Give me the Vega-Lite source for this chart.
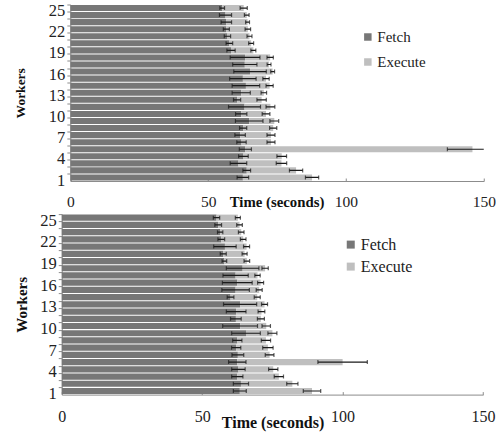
{
  "$schema": "https://vega.github.io/schema/vega-lite/v6.json",
  "padding": {"left": 12.75, "top": 2.5, "right": 0, "bottom": 0},
  "config": {"view": {"stroke": null}, "axis": {"grid": false}, "font": "Liberation Serif"},
  "datasets": {
    "top": [
      {"w":25,"s":"Fetch","a":0,"b":55.1,"e":0.85},{"w":25,"s":"Execute","a":55.1,"b":62.9,"e":1.3},
      {"w":24,"s":"Fetch","a":0,"b":56.3,"e":2.2},{"w":24,"s":"Execute","a":56.3,"b":64.0,"e":0.85},
      {"w":23,"s":"Fetch","a":0,"b":56.6,"e":1.9},{"w":23,"s":"Execute","a":56.6,"b":64.3,"e":0.7},
      {"w":22,"s":"Fetch","a":0,"b":56.6,"e":1.1},{"w":22,"s":"Execute","a":56.6,"b":64.4,"e":1.0},
      {"w":21,"s":"Fetch","a":0,"b":57.0,"e":1.15},{"w":21,"s":"Execute","a":57.0,"b":65.0,"e":0.9},
      {"w":20,"s":"Fetch","a":0,"b":57.7,"e":1.2},{"w":20,"s":"Execute","a":57.7,"b":65.6,"e":0.9},
      {"w":19,"s":"Fetch","a":0,"b":58.3,"e":1.5},{"w":19,"s":"Execute","a":58.3,"b":66.4,"e":0.9},
      {"w":18,"s":"Fetch","a":0,"b":63.4,"e":5.4},{"w":18,"s":"Execute","a":63.4,"b":72.5,"e":1.15},
      {"w":17,"s":"Fetch","a":0,"b":63.3,"e":4.4},{"w":17,"s":"Execute","a":63.3,"b":72.1,"e":0.7},
      {"w":16,"s":"Fetch","a":0,"b":65.2,"e":5.9},{"w":16,"s":"Execute","a":65.2,"b":73.4,"e":0.7},
      {"w":15,"s":"Fetch","a":0,"b":62.6,"e":4.8},{"w":15,"s":"Execute","a":62.6,"b":71.0,"e":1.15},
      {"w":14,"s":"Fetch","a":0,"b":63.7,"e":5.0},{"w":14,"s":"Execute","a":63.7,"b":72.3,"e":1.3},
      {"w":13,"s":"Fetch","a":0,"b":62.0,"e":3.3},{"w":13,"s":"Execute","a":62.0,"b":70.2,"e":1.0},
      {"w":12,"s":"Fetch","a":0,"b":60.5,"e":1.3},{"w":12,"s":"Execute","a":60.5,"b":69.4,"e":1.7},
      {"w":11,"s":"Fetch","a":0,"b":63.2,"e":5.8},{"w":11,"s":"Execute","a":63.2,"b":72.6,"e":1.6},
      {"w":10,"s":"Fetch","a":0,"b":62.0,"e":2.05},{"w":10,"s":"Execute","a":62.0,"b":71.0,"e":1.4},
      {"w":9,"s":"Fetch","a":0,"b":64.9,"e":5.0},{"w":9,"s":"Execute","a":64.9,"b":74.0,"e":1.6},
      {"w":8,"s":"Fetch","a":0,"b":62.7,"e":1.3},{"w":8,"s":"Execute","a":62.7,"b":73.6,"e":1.3},
      {"w":7,"s":"Fetch","a":0,"b":61.6,"e":1.9},{"w":7,"s":"Execute","a":61.6,"b":72.8,"e":1.45},
      {"w":6,"s":"Fetch","a":0,"b":62.1,"e":1.7},{"w":6,"s":"Execute","a":62.1,"b":72.8,"e":1.45},
      {"w":5,"s":"Fetch","a":0,"b":63.5,"e":2.2},{"w":5,"s":"Execute","a":63.5,"b":145.9,"e":9.1},
      {"w":4,"s":"Fetch","a":0,"b":62.8,"e":1.75},{"w":4,"s":"Execute","a":62.8,"b":76.7,"e":1.75},
      {"w":3,"s":"Fetch","a":0,"b":61.0,"e":3.0},{"w":3,"s":"Execute","a":61.0,"b":76.6,"e":1.9},
      {"w":2,"s":"Fetch","a":0,"b":64.0,"e":1.4},{"w":2,"s":"Execute","a":64.0,"b":81.9,"e":2.4},
      {"w":1,"s":"Fetch","a":0,"b":62.6,"e":2.1},{"w":1,"s":"Execute","a":62.6,"b":87.7,"e":2.4}
    ],
    "bot": [
      {"w":25,"s":"Fetch","a":0,"b":55.1,"e":1.13},{"w":25,"s":"Execute","a":55.1,"b":62.7,"e":0.9},
      {"w":24,"s":"Fetch","a":0,"b":55.7,"e":1.2},{"w":24,"s":"Execute","a":55.7,"b":63.3,"e":1.0},
      {"w":23,"s":"Fetch","a":0,"b":56.4,"e":0.95},{"w":23,"s":"Execute","a":56.4,"b":63.9,"e":1.0},
      {"w":22,"s":"Fetch","a":0,"b":56.8,"e":1.2},{"w":22,"s":"Execute","a":56.8,"b":64.6,"e":1.0},
      {"w":21,"s":"Fetch","a":0,"b":58.1,"e":4.0},{"w":21,"s":"Execute","a":58.1,"b":65.8,"e":1.07},
      {"w":20,"s":"Fetch","a":0,"b":57.5,"e":1.07},{"w":20,"s":"Execute","a":57.5,"b":65.1,"e":0.9},
      {"w":19,"s":"Fetch","a":0,"b":57.9,"e":0.83},{"w":19,"s":"Execute","a":57.9,"b":65.9,"e":1.0},
      {"w":18,"s":"Fetch","a":0,"b":64.4,"e":5.8},{"w":18,"s":"Execute","a":64.4,"b":72.4,"e":1.13},
      {"w":17,"s":"Fetch","a":0,"b":61.9,"e":4.5},{"w":17,"s":"Execute","a":61.9,"b":69.7,"e":0.95},
      {"w":16,"s":"Fetch","a":0,"b":62.5,"e":5.3},{"w":16,"s":"Execute","a":62.5,"b":70.8,"e":1.07},
      {"w":15,"s":"Fetch","a":0,"b":61.9,"e":4.9},{"w":15,"s":"Execute","a":61.9,"b":70.3,"e":1.07},
      {"w":14,"s":"Fetch","a":0,"b":60.1,"e":1.2},{"w":14,"s":"Execute","a":60.1,"b":69.6,"e":1.07},
      {"w":13,"s":"Fetch","a":0,"b":63.5,"e":5.9},{"w":13,"s":"Execute","a":63.5,"b":72.2,"e":1.07},
      {"w":12,"s":"Fetch","a":0,"b":62.1,"e":3.5},{"w":12,"s":"Execute","a":62.1,"b":71.1,"e":1.2},
      {"w":11,"s":"Fetch","a":0,"b":62.0,"e":1.9},{"w":11,"s":"Execute","a":62.0,"b":70.9,"e":1.25},
      {"w":10,"s":"Fetch","a":0,"b":63.5,"e":6.2},{"w":10,"s":"Execute","a":63.5,"b":72.8,"e":1.5},
      {"w":9,"s":"Fetch","a":0,"b":65.6,"e":5.1},{"w":9,"s":"Execute","a":65.6,"b":75.0,"e":1.6},
      {"w":8,"s":"Fetch","a":0,"b":62.5,"e":1.65},{"w":8,"s":"Execute","a":62.5,"b":72.7,"e":1.65},
      {"w":7,"s":"Fetch","a":0,"b":62.1,"e":1.65},{"w":7,"s":"Execute","a":62.1,"b":73.4,"e":1.85},
      {"w":6,"s":"Fetch","a":0,"b":62.7,"e":2.1},{"w":6,"s":"Execute","a":62.7,"b":74.0,"e":1.55},
      {"w":5,"s":"Fetch","a":0,"b":62.5,"e":3.1},{"w":5,"s":"Execute","a":62.5,"b":100.0,"e":8.8},
      {"w":4,"s":"Fetch","a":0,"b":62.9,"e":2.4},{"w":4,"s":"Execute","a":62.9,"b":75.3,"e":1.65},
      {"w":3,"s":"Fetch","a":0,"b":62.5,"e":2.0},{"w":3,"s":"Execute","a":62.5,"b":77.3,"e":1.65},
      {"w":2,"s":"Fetch","a":0,"b":63.8,"e":2.7},{"w":2,"s":"Execute","a":63.8,"b":82.1,"e":2.0},
      {"w":1,"s":"Fetch","a":0,"b":63.4,"e":2.3},{"w":1,"s":"Execute","a":63.4,"b":89.1,"e":3.1}
    ]
  },
  "vconcat": [
    {
      "width": 422,
      "height": 176.5,
      "data": {"name": "top"},
      "layer": [
        {
          "mark": {"type": "bar"},
          "encoding": {
            "y": {"field": "w", "type": "ordinal", "sort": "descending",
              "scale": {"paddingInner": 0.14, "paddingOuter": 0.07},
              "axis": {"offset": -8.6, "bandPosition": 0, "labelOffset": 3.04, "tickSize": 3.5, "tickColor": "#8c8c8c", "domainColor": "#8c8c8c",
                "labelPadding": 2, "labelFont": "Liberation Serif", "labelFontSize": 16.5, "labelColor": "#222",
                "labelExpr": "datum.value % 3 == 1 ? datum.label : ''",
                "title": "Workers", "titleFont": "Liberation Serif", "titleFontSize": 13.5, "titleFontWeight": "bold", "titleColor": "#111",
                "titleAngle": -90, "titleX": -50.3, "titleY": 88.25, "titleAlign": "center", "titleBaseline": "middle"}},
            "x": {"field": "a", "type": "quantitative", "scale": {"domain": [0, 150], "nice": false, "range": [8.6, 422]},
              "title": "Time (seconds)",
              "axis": {"values": [0, 50, 100, 150], "tickSize": -3, "tickColor": "#8c8c8c", "domainColor": "#8c8c8c",
                "labelBaseline": "alphabetic", "labelPadding": 28, "labelFont": "Liberation Serif", "labelFontSize": 15.5, "labelColor": "#222", "labelFlush": false,
                "titleFont": "Liberation Serif", "titleFontSize": 14.8, "titleFontWeight": "bold", "titleColor": "#111",
                "titleX": 214.8, "titleY": 25, "titleAlign": "center", "titleBaseline": "alphabetic"}},
            "x2": {"field": "b"},
            "color": {"field": "s", "type": "nominal",
              "scale": {"domain": ["Fetch", "Execute"], "range": ["#777777", "#bfbfbf"]},
              "legend": {"orient": "none", "legendX": 298.6, "legendY": 25, "title": null, "direction": "vertical",
                "symbolType": "square", "symbolSize": 56, "symbolStrokeWidth": 0, "padding": 0,
                "labelFont": "Liberation Serif", "labelFontSize": 15, "labelColor": "#222", "labelOffset": 2, "rowPadding": 9}}
          }
        },
        {
          "mark": {"type": "errorbar", "color": "#1a1a1a", "clip": true, "ticks": {"size": 4, "thickness": 1.2}, "rule": {"strokeWidth": 1.2}},
          "encoding": {
            "y": {"field": "w", "type": "ordinal", "sort": "descending"},
            "x": {"field": "b", "type": "quantitative", "title": "Time (seconds)"},
            "xError": {"field": "e"}
          }
        }
      ]
    },
    {
      "width": 421.3,
      "height": 180.5,
      "data": {"name": "bot"},
      "layer": [
        {
          "mark": {"type": "bar"},
          "encoding": {
            "y": {"field": "w", "type": "ordinal", "sort": "descending",
              "scale": {"paddingInner": 0.14, "paddingOuter": 0.07},
              "axis": {"bandPosition": 0, "labelOffset": 3.1, "tickSize": 3.5, "tickColor": "#8c8c8c", "domainColor": "#8c8c8c",
                "labelPadding": 2, "labelFont": "Liberation Serif", "labelFontSize": 16.5, "labelColor": "#222",
                "labelExpr": "datum.value % 3 == 1 ? datum.label : ''",
                "title": "Workers", "titleFont": "Liberation Serif", "titleFontSize": 15, "titleFontWeight": "bold", "titleColor": "#111",
                "titleAngle": -90, "titleX": -40.2, "titleY": 90.25, "titleAlign": "center", "titleBaseline": "middle"}},
            "x": {"field": "a", "type": "quantitative", "scale": {"domain": [0, 150], "nice": false},
              "title": "Time (seconds)",
              "axis": {"values": [0, 50, 100, 150], "tickSize": -3, "tickColor": "#8c8c8c", "domainColor": "#8c8c8c",
                "labelBaseline": "alphabetic", "labelPadding": 30, "labelFont": "Liberation Serif", "labelFontSize": 16, "labelColor": "#222", "labelFlush": false,
                "titleFont": "Liberation Serif", "titleFontSize": 16, "titleFontWeight": "bold", "titleColor": "#111",
                "titleX": 210.8, "titleY": 33, "titleAlign": "center", "titleBaseline": "alphabetic"}},
            "x2": {"field": "b"},
            "color": {"field": "s", "type": "nominal",
              "scale": {"domain": ["Fetch", "Execute"], "range": ["#777777", "#bfbfbf"]},
              "legend": {"orient": "none", "legendX": 281, "legendY": 22.5, "title": null, "direction": "vertical",
                "symbolType": "square", "symbolSize": 64, "symbolStrokeWidth": 0, "padding": 0,
                "labelFont": "Liberation Serif", "labelFontSize": 16, "labelColor": "#222", "labelOffset": 2, "rowPadding": 6}}
          }
        },
        {
          "mark": {"type": "errorbar", "color": "#1a1a1a", "clip": true, "ticks": {"size": 4, "thickness": 1.2}, "rule": {"strokeWidth": 1.2}},
          "encoding": {
            "y": {"field": "w", "type": "ordinal", "sort": "descending"},
            "x": {"field": "b", "type": "quantitative", "title": "Time (seconds)"},
            "xError": {"field": "e"}
          }
        }
      ]
    }
  ],
  "spacing": 2.6,
  "resolve": {"scale": {"color": "independent", "x": "independent", "y": "independent"}, "legend": {"color": "independent"}}
}
